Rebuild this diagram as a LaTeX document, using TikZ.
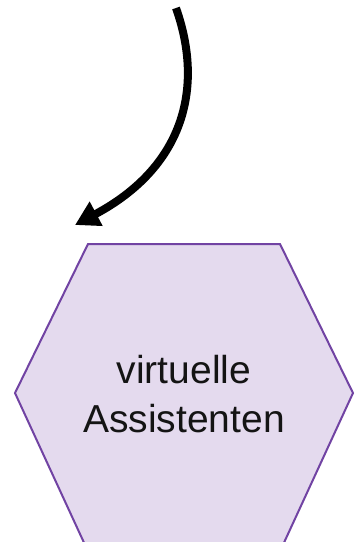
\documentclass[tikz,border=0pt]{standalone}
\usepackage{fontspec}
\setmainfont{Liberation Sans}
\usetikzlibrary{arrows.meta}
\definecolor{hexfill}{HTML}{E4DAEE}
\definecolor{hexdraw}{HTML}{7143A3}
\tikzset{
  hexshape/.style={fill=hexfill, draw=hexdraw, line width=2pt, line join=miter},
  hexlabel/.style={align=center, font=\fontsize{39}{49}\selectfont, text=black!92},
  bigarrow/.style={line width=8pt, -{Triangle[length=24pt,width=26pt]}}
}
\begin{document}
\begin{tikzpicture}[x=1pt,y=-1pt]
\useasboundingbox (0,0) rectangle (360,542);
\clip (0,0) rectangle (360,542);
\fill[white] (0,0) rectangle (360,542);
\coordinate (h1) at (88,244);
\coordinate (h2) at (280,244);
\coordinate (h3) at (353,393);
\coordinate (h4) at (282,547);
\coordinate (h5) at (86,547);
\coordinate (h6) at (15,393);
\draw[hexshape] (h1) -- (h2) -- (h3) -- (h4) -- (h5) -- (h6) -- cycle;
\node[hexlabel] (label) at (184,394) {virtuelle\\Assistenten};
\coordinate (src) at (176,8);
\coordinate (dst) at (75,225);
\draw[bigarrow] (src) .. controls (205,90) and (182,168) .. (dst);
\end{tikzpicture}
\end{document}
